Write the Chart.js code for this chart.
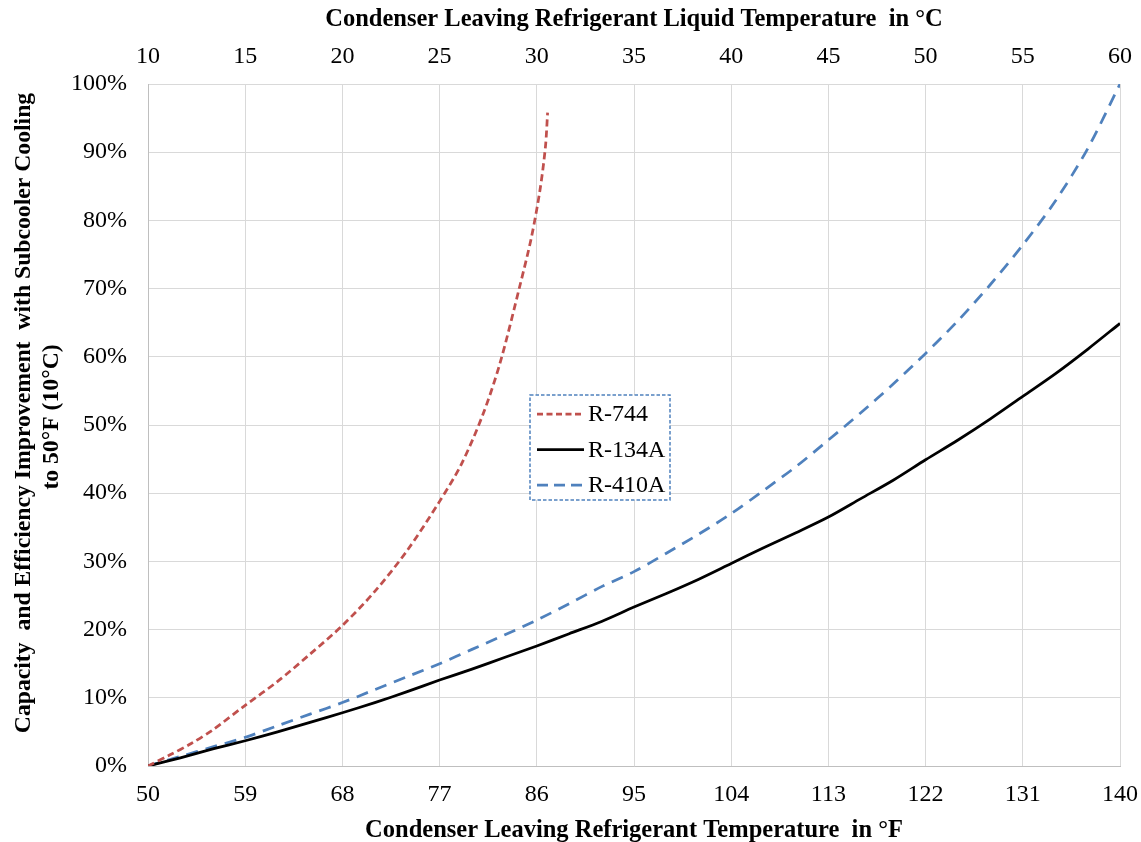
<!DOCTYPE html>
<html>
<head>
<meta charset="utf-8">
<script src="https://cdn.jsdelivr.net/npm/chart.js@4.4.1/dist/chart.umd.min.js"></script>
<style>
html,body{margin:0;padding:0;background:#fff;}
#wrap{width:1141px;height:842px;position:relative;}
</style>
</head>
<body>
<div id="wrap"><canvas id="c" width="1141" height="842"></canvas></div>
<script>
// Data (x in °F, y in %)
const r744F   = [50, 52, 54, 56, 59, 62, 65, 68, 71, 74, 77, 79, 81, 82.6, 84.4, 85.5, 86.3, 86.8, 87.0];
const r744Pct = [0, 1.6, 3.3, 5.3, 8.9, 12.4, 16.4, 20.6, 25.6, 31.6, 38.8, 44.2, 51.5, 59.1, 70.2, 77.5, 84.5, 90.8, 95.8];

const r134F   = [50, 53, 56, 59, 62, 65, 68, 71, 74, 77, 80, 83, 86, 89, 92, 95, 98, 101, 104, 107, 110, 113, 116, 119, 122, 125, 128, 131, 134, 137, 140];
const r134Pct = [0, 1.2, 2.5, 3.7, 5.0, 6.4, 7.8, 9.3, 10.9, 12.6, 14.2, 15.9, 17.6, 19.4, 21.2, 23.3, 25.3, 27.4, 29.7, 32.0, 34.2, 36.5, 39.2, 41.9, 44.9, 47.8, 50.9, 54.2, 57.5, 61.1, 64.9];

const r410F   = [50, 53, 56, 59, 62, 65, 68, 71, 74, 77, 80, 83, 86, 89, 92, 95, 98, 101, 104, 107, 110, 113, 116, 119, 122, 125, 128, 131, 134, 137, 140];
const r410Pct = [0, 1.4, 2.8, 4.2, 5.9, 7.6, 9.3, 11.2, 13.1, 15.0, 17.1, 19.2, 21.4, 23.8, 26.3, 28.5, 31.2, 34.0, 37.0, 40.4, 43.9, 47.8, 51.8, 56.0, 60.5, 65.3, 70.6, 76.4, 82.8, 90.5, 100];

const fTicks = [50, 59, 68, 77, 86, 95, 104, 113, 122, 131, 140];
const cTicks = [10, 15, 20, 25, 30, 35, 40, 45, 50, 55, 60];
const yTicks = [0, 10, 20, 30, 40, 50, 60, 70, 80, 90, 100];

const seriesNames = ['R-744', 'R-134A', 'R-410A'];
const yTitleLines = ['Capacity  and Efficiency Improvement  with Subcooler Cooling', 'to 50°F (10°C)'];

function pts(xs, ys){ return xs.map((x,i)=>({x:x, y:ys[i]})); }

const FONT = "'Liberation Serif', 'Times New Roman', serif";

const legendPlugin = {
  id: 'boxLegend',
  afterDatasetsDraw(chart){
    const ctx = chart.ctx;
    const xs = chart.scales.x, ys = chart.scales.y;
    const left = Math.round(xs.getPixelForValue(85.37)), top = Math.round(ys.getPixelForValue(54.4));
    const w = 140, h = 105;
    const legendDash = [[6,3.5],[],[11,6]];
    ctx.save();
    ctx.fillStyle = '#fff';
    ctx.fillRect(left, top, w, h);
    ctx.strokeStyle = '#4F81BD';
    ctx.lineWidth = 1.5;
    ctx.setLineDash([3.5,2]);
    ctx.strokeRect(left, top, w, h);
    chart.data.datasets.forEach((ds, i) => {
      const yy = top + 19 + i*35.5;
      ctx.strokeStyle = ds.borderColor;
      ctx.lineWidth = 2.75;
      ctx.setLineDash(legendDash[i]);
      ctx.beginPath();
      ctx.moveTo(left+7, yy);
      ctx.lineTo(left+54, yy);
      ctx.stroke();
      ctx.setLineDash([]);
      ctx.fillStyle = '#000';
      ctx.font = "24px " + FONT;
      ctx.textBaseline = 'middle';
      ctx.textAlign = 'left';
      ctx.fillText(ds.label, left+58, yy+1);
    });
    ctx.restore();
  }
};

const yTitlePlugin = {
  id: 'yTitle',
  afterDraw(chart){
    const ctx = chart.ctx;
    ctx.save();
    ctx.fillStyle = '#000';
    ctx.font = "bold 23.7px " + FONT;
    ctx.textAlign = 'center';
    ctx.textBaseline = 'middle';
    const pos = [[24, 413], [52, 417]];
    yTitleLines.forEach((t, i) => {
      ctx.save();
      ctx.translate(pos[i][0], pos[i][1]);
      ctx.rotate(-Math.PI/2);
      ctx.fillText(t, 0, 0);
      ctx.restore();
    });
    ctx.restore();
  }
};

new Chart(document.getElementById('c'), {
  type: 'scatter',
  data: {
    datasets: [
      { label: seriesNames[0], data: pts(r744F, r744Pct), showLine: true, borderColor: '#C0504D', borderWidth: 2.75, borderDash: [7,4], pointRadius: 0, tension: 0.3, fill: false },
      { label: seriesNames[1], data: pts(r134F, r134Pct), showLine: true, borderColor: '#000000', borderWidth: 2.75, pointRadius: 0, tension: 0.3, fill: false },
      { label: seriesNames[2], data: pts(r410F, r410Pct), showLine: true, borderColor: '#4F81BD', borderWidth: 2.75, borderDash: [12,8], pointRadius: 0, tension: 0.3, fill: false }
    ]
  },
  options: {
    responsive: false,
    animation: false,
    layout: { padding: { left: 0, right: 21, top: 0, bottom: 0 } },
    plugins: { legend: { display: false }, tooltip: { enabled: false } },
    scales: {
      x: {
        type: 'linear', position: 'bottom', min: 50, max: 140,
        afterBuildTicks(s){ s.ticks = fTicks.map(v=>({value:v})); },
        afterFit(s){ s.height = 76; s.paddingLeft = 0; s.paddingRight = 0; },
        grid: { color: '#d9d9d9', lineWidth: 1, drawTicks: false },
        border: { color: '#bfbfbf', width: 1 },
        ticks: { color: '#000', font: { family: FONT, size: 24 }, padding: 14, maxRotation: 0 },
        title: { display: true, text: 'Condenser Leaving Refrigerant Temperature  in °F', color: '#000', font: { family: FONT, size: 24.5, weight: 'bold', lineHeight: 0.9 }, padding: { top: 0, bottom: 0 } }
      },
      x2: {
        type: 'linear', position: 'top', min: 10, max: 60,
        afterBuildTicks(s){ s.ticks = cTicks.map(v=>({value:v})); },
        afterFit(s){ s.height = 84; s.paddingLeft = 0; s.paddingRight = 0; },
        grid: { display: false, drawTicks: false },
        border: { display: false },
        ticks: { color: '#000', font: { family: FONT, size: 24 }, padding: 13, maxRotation: 0 },
        title: { display: true, text: 'Condenser Leaving Refrigerant Liquid Temperature  in °C', color: '#000', font: { family: FONT, size: 24.5, weight: 'bold' }, padding: { top: 5, bottom: 0 } }
      },
      y: {
        type: 'linear', min: 0, max: 100,
        afterBuildTicks(s){ s.ticks = yTicks.map(v=>({value:v})); },
        afterFit(s){ s.width = 148; },
        grid: { color: '#d9d9d9', lineWidth: 1, drawTicks: false },
        border: { color: '#bfbfbf', width: 1 },
        ticks: { color: '#000', font: { family: FONT, size: 24 }, padding: 21, callback: v => v + '%' },
        title: { display: false }
      }
    }
  },
  plugins: [legendPlugin, yTitlePlugin]
});
</script>
</body>
</html>
